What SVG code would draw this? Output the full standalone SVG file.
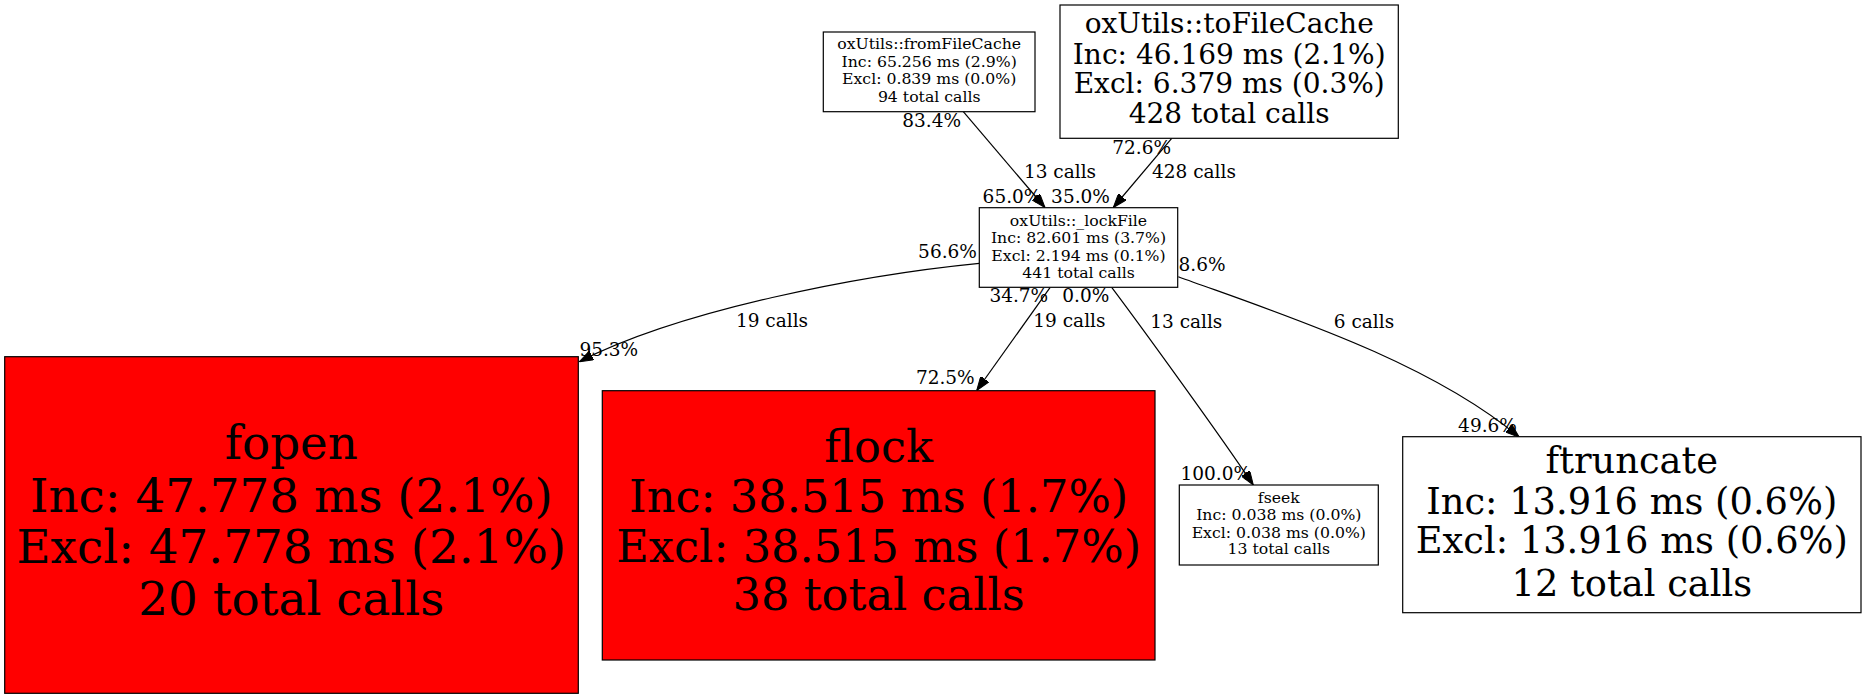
<svg xmlns="http://www.w3.org/2000/svg" width="1867" height="699" viewBox="0 0 1867 699">
<style>
text { font-family: "DejaVu Serif", "Liberation Serif", serif; fill: #000; text-anchor: middle; }
.box { fill: #fff; stroke: #000; stroke-width: 1.2; }
.hot { fill: #ff0000; stroke: #000; stroke-width: 1.2; }
.edge { fill: none; stroke: #000; stroke-width: 1.2; marker-end: url(#arrow); }
.s { font-size: 15.7px; }
.m { font-size: 28px; }
.l { font-size: 18.5px; }
</style>
<defs>
<marker id="arrow" markerUnits="userSpaceOnUse" markerWidth="14" markerHeight="10" refX="14" refY="5" orient="auto" viewBox="0 0 14 10">
<path d="M0,0 L14,5 L0,10 z" fill="#000" stroke="#000" stroke-width="1"/>
</marker>
</defs>
<rect width="1867" height="699" fill="#fff"/>
<g id="connectors">
<path class="edge" d="M963.3,111.7 L1045,207.5"/>
<path class="edge" d="M1171.7,138.3 L1113.3,207.5"/>
<path class="edge" d="M979.3,263.3 C860,275 680,310 579.3,361.7"/>
<path class="edge" d="M1050,287.7 L976.7,390.5"/>
<path class="edge" d="M1111.7,287.3 C1140,325 1220,435 1253.3,485"/>
<path class="edge" d="M1178.3,276.7 C1278,313 1429,361 1519.3,437.3"/>
<text class="l" x="931.7" y="126.7">83.4%</text>
<text class="l" x="1060" y="177.7">13 calls</text>
<text class="l" x="1012" y="202.7">65.0%</text>
<text class="l" x="1080.5" y="202.7">35.0%</text>
<text class="l" x="1141.7" y="154">72.6%</text>
<text class="l" x="1194" y="177.7">428 calls</text>
<text class="l" x="947.5" y="258.3">56.6%</text>
<text class="l" x="772" y="327.3">19 calls</text>
<text class="l" x="608.8" y="356">95.3%</text>
<text class="l" x="1018.8" y="301.7">34.7%</text>
<text class="l" x="1069.4" y="327.3">19 calls</text>
<text class="l" x="945.3" y="384.3">72.5%</text>
<text class="l" x="1085.8" y="301.7">0.0%</text>
<text class="l" x="1186.3" y="327.7">13 calls</text>
<text class="l" x="1215.8" y="480">100.0%</text>
<text class="l" x="1202" y="270.5">8.6%</text>
<text class="l" x="1364" y="327.7">6 calls</text>
<text class="l" x="1487.5" y="432.3">49.6%</text>
</g>
<g id="fromFileCache">
<rect class="box" x="823.3" y="32" width="211.7" height="79.7"/>
<text class="s" x="929.2" y="49.3">oxUtils::fromFileCache</text>
<text class="s" x="929.2" y="66.7">Inc: 65.256 ms (2.9%)</text>
<text class="s" x="929.2" y="84.3">Excl: 0.839 ms (0.0%)</text>
<text class="s" x="929.2" y="101.7">94 total calls</text>
</g>
<g id="toFileCache">
<rect class="box" x="1060" y="5" width="338.3" height="133.3"/>
<text class="m" x="1229.2" y="33.3">oxUtils::toFileCache</text>
<text class="m" x="1229.2" y="64">Inc: 46.169 ms (2.1%)</text>
<text class="m" x="1229.2" y="93.3">Excl: 6.379 ms (0.3%)</text>
<text class="m" x="1229.2" y="123.3">428 total calls</text>
</g>
<g id="lockFile">
<rect class="box" x="979.3" y="207.7" width="198.4" height="79.6"/>
<text class="s" x="1078.5" y="226">oxUtils::_lockFile</text>
<text class="s" x="1078.5" y="243.3">Inc: 82.601 ms (3.7%)</text>
<text class="s" x="1078.5" y="261">Excl: 2.194 ms (0.1%)</text>
<text class="s" x="1078.5" y="277.7">441 total calls</text>
</g>
<g id="fopen">
<rect class="hot" x="4.7" y="356.7" width="573.6" height="336.6"/>
<text x="291.3" y="459.3" font-size="46.8">fopen</text>
<text x="291.3" y="512.3" font-size="46.8">Inc: 47.778 ms (2.1%)</text>
<text x="291.3" y="563.3" font-size="46.8">Excl: 47.778 ms (2.1%)</text>
<text x="291.3" y="615" font-size="46.8">20 total calls</text>
</g>
<g id="flock">
<rect class="hot" x="602.3" y="390.7" width="552.7" height="269.3"/>
<text x="878.7" y="461.7" font-size="44.7">flock</text>
<text x="878.7" y="511.7" font-size="44.7">Inc: 38.515 ms (1.7%)</text>
<text x="878.7" y="561.7" font-size="44.7">Excl: 38.515 ms (1.7%)</text>
<text x="878.7" y="610" font-size="44.7">38 total calls</text>
</g>
<g id="fseek">
<rect class="box" x="1179.3" y="485" width="199" height="80"/>
<text class="s" x="1278.8" y="502.7">fseek</text>
<text class="s" x="1278.8" y="520">Inc: 0.038 ms (0.0%)</text>
<text class="s" x="1278.8" y="537.7">Excl: 0.038 ms (0.0%)</text>
<text class="s" x="1278.8" y="554.3">13 total calls</text>
</g>
<g id="ftruncate">
<rect class="box" x="1402.7" y="436.7" width="458.3" height="176"/>
<text x="1631.8" y="473.3" font-size="36.8">ftruncate</text>
<text x="1631.8" y="514.3" font-size="36.8">Inc: 13.916 ms (0.6%)</text>
<text x="1631.8" y="552.7" font-size="36.8">Excl: 13.916 ms (0.6%)</text>
<text x="1631.8" y="595.7" font-size="36.8">12 total calls</text>
</g>
</svg>
